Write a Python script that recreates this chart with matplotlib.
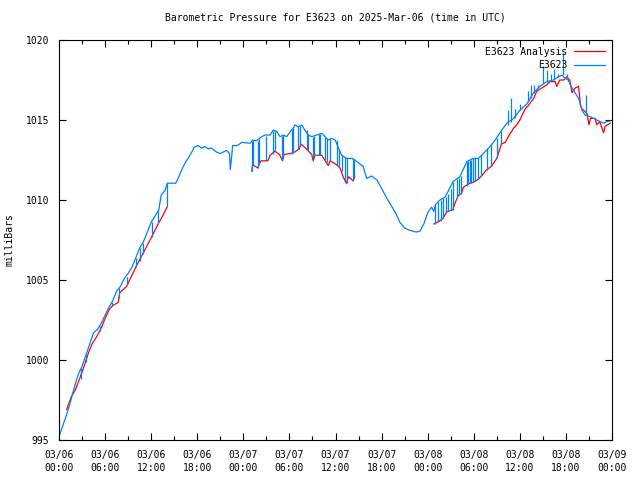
import numpy as np
from matplotlib import pyplot as plt
from matplotlib.ticker import MultipleLocator

# hours since 03/06 00:00 UTC
obs_t = [0.0, 0.5, 1.0, 1.5, 2.0, 2.5, 3.0, 3.5, 4.0, 4.5, 5.0, 5.5, 6.0, 6.5, 7.0, 7.5,
         8.0, 8.5, 9.0, 9.5, 10.0, 10.5, 11.0, 11.5, 12.0, 12.5, 13.0, 13.3, 13.8, 14.1,
         15.2, 15.5, 16.0, 16.4, 16.8, 17.3, 17.6, 18.1, 18.6, 19.0, 19.4, 19.8, 20.5,
         21.0, 21.8, 22.2, 22.3, 22.5, 22.6, 23.2, 23.8, 24.9, 25.2, 25.7, 26.4, 26.8,
         27.5, 27.9, 28.35, 28.8, 29.2, 29.65, 30.1, 30.5, 30.7, 31.15, 31.6, 32.0, 32.45,
         32.9, 33.55, 34.2, 34.65, 35.05, 35.5, 35.95, 36.4, 36.8, 37.45, 38.1, 38.5,
         39.6, 40.05, 40.7, 41.4, 42.7, 43.75, 44.4, 45.0, 45.7, 46.5, 47.0, 47.5, 48.0,
         48.5, 48.8, 49.0, 49.6, 50.3, 51.3, 52.2, 53.1, 53.9, 54.6, 55.25, 56.1, 56.8,
         57.4, 58.3, 59.2, 60.0, 60.9, 61.8, 62.6, 63.5, 64.4, 65.0, 65.5, 65.9, 66.3,
         66.8, 67.2, 67.65, 68.1, 68.5, 69.2, 70.0, 70.9, 71.3, 71.75]
obs_v = [995.2, 995.9, 996.6, 997.4, 998.3, 999.1, 999.6, 1000.3, 1001.0, 1001.7, 1001.9,
         1002.3, 1002.8, 1003.3, 1003.7, 1004.3, 1004.6, 1005.1, 1005.4, 1005.8, 1006.4,
         1007.0, 1007.4, 1008.0, 1008.6, 1009.0, 1009.4, 1010.3, 1010.6, 1011.05,
         1011.05, 1011.35, 1011.9, 1012.3, 1012.6, 1013.0, 1013.3, 1013.4, 1013.25,
         1013.35, 1013.2, 1013.25, 1013.0, 1012.9, 1013.1, 1012.9, 1011.9, 1012.8, 1013.4,
         1013.4, 1013.6, 1013.55, 1013.75, 1013.7, 1013.96, 1014.06, 1014.06, 1014.38,
         1014.27, 1013.96, 1014.06, 1013.96, 1014.27, 1014.48, 1014.69, 1014.58, 1014.69,
         1014.38, 1014.06, 1013.96, 1014.06, 1014.17, 1013.96, 1013.75, 1013.85, 1013.75,
         1013.23, 1012.8, 1012.6, 1012.6, 1012.5, 1012.1, 1011.35, 1011.5, 1011.25,
         1010.1, 1009.25, 1008.6, 1008.25, 1008.1, 1008.0, 1008.05, 1008.5, 1009.2,
         1009.55, 1009.3, 1009.7, 1010.0, 1010.2, 1011.15, 1011.46, 1012.4, 1012.6,
         1012.6, 1012.9, 1013.33, 1013.75, 1014.2, 1014.8, 1015.1, 1015.6, 1016.0,
         1016.7, 1017.1, 1017.4, 1017.5, 1017.7, 1017.8, 1017.6, 1017.5, 1017.0, 1016.7,
         1016.35, 1015.6, 1015.3, 1015.2, 1015.0, 1014.8, 1014.9, 1014.94]

# vertical jumps in the observed trace (time, low end, high end)
jump_t = [2.9, 3.5, 5.3, 6.9, 7.85, 8.9, 10.0, 10.5, 10.9, 12.07, 12.9, 14.05,
          25.1, 25.3, 25.95, 26.1, 27.0, 27.8, 28.1, 29.0, 29.2, 30.3, 30.5, 31.15, 31.4,
          32.25, 32.45, 33.05, 33.2, 33.8, 34.0, 34.65, 34.85, 35.3, 36.15, 36.4, 36.8,
          37.25, 37.45, 38.3, 38.45,
          48.95, 49.4, 49.7, 50.05, 50.4, 50.7, 51.0, 51.35, 51.8, 52.1, 52.4, 53.1, 53.3,
          53.5, 53.7, 53.95, 54.2, 54.6, 55.0, 55.7, 56.3, 57.0, 57.6,
          58.4, 58.9, 59.4, 60.0, 61.1, 61.5, 61.8, 62.4, 63.0, 63.5, 64.0, 64.45, 65.0,
          65.6, 66.1, 68.6]
jump_lo = [998.8, 999.9, 1001.8, 1003.35, 1003.9, 1004.7, 1005.8, 1006.2, 1006.6, 1007.7,
           1008.5, 1009.6,
           1011.8, 1012.2, 1012.0, 1012.2, 1012.45, 1012.9, 1013.05, 1012.5, 1012.6,
           1012.9, 1012.95, 1013.2, 1013.4, 1013.2, 1013.1, 1012.6, 1012.6, 1012.8,
           1012.8, 1012.5, 1012.35, 1012.45, 1012.2, 1012.1, 1011.8, 1011.2, 1011.05,
           1011.2, 1011.45,
           1008.5, 1008.65, 1008.7, 1008.85, 1009.2, 1009.3, 1009.35, 1009.4, 1010.1,
           1010.3, 1010.4, 1010.9, 1011.0, 1011.04, 1011.05, 1011.1, 1011.2, 1011.3,
           1011.5, 1011.9, 1012.1, 1012.6, 1013.5,
           1014.7, 1014.9, 1015.15, 1015.6, 1016.1, 1016.4, 1016.7, 1017.0, 1017.3,
           1017.4, 1017.45, 1017.5, 1017.7, 1017.8, 1017.6, 1015.4]
jump_hi = [999.5, 1000.3, 1002.1, 1003.6, 1004.5, 1005.2, 1006.4, 1007.0, 1007.3, 1008.6,
           1009.4, 1011.05,
           1013.7, 1013.75, 1013.7, 1013.8, 1014.0, 1014.3, 1014.35, 1014.0, 1014.05,
           1014.4, 1014.5, 1014.6, 1014.65, 1014.35, 1014.1, 1013.95, 1014.0, 1014.1,
           1014.15, 1013.95, 1013.9, 1013.8, 1013.75, 1013.2, 1012.8, 1012.7, 1012.6,
           1012.6, 1012.5,
           1009.7, 1009.9, 1010.0, 1010.1, 1010.2, 1010.4, 1010.7, 1011.15, 1011.3,
           1011.4, 1011.5, 1012.4, 1012.45, 1012.5, 1012.5, 1012.6, 1012.6, 1012.6,
           1012.8, 1013.2, 1013.5, 1013.9, 1014.3,
           1015.6, 1016.35, 1015.7, 1016.0, 1016.8, 1017.2, 1017.2, 1017.2, 1018.4,
           1018.1, 1017.9, 1018.2, 1017.9, 1019.2, 1017.9, 1016.55]

ana_t = [1.0, 1.6, 2.1, 2.7, 3.4, 3.8, 4.3, 4.9, 5.5, 6.0, 6.6, 7.0, 7.7, 7.9, 8.8, 9.2,
         10.1, 10.98, 12.07, 12.9, 13.6, 14.1, np.nan,
         25.1, 25.2, 25.9, 26.0, 26.3, 27.2, 27.5, 28.1, 28.7, 29.1, 29.3, 30.1, 30.7,
         31.3, 31.5, 32.2, 32.9, 33.1, 33.3, 34.2, 34.6, 35.05, 35.3, 36.15, 36.6, 37.0,
         37.4, 37.7, 38.3, 38.5, np.nan,
         48.8, 49.4, 50.0, 50.5, 51.3, 51.56, 52.0, 52.4, 52.65, 53.5, 53.9, 54.6, 55.0,
         55.7, 56.3, 57.0, 57.6, 58.1, 58.5, 59.2, 59.6, 60.0, 60.7, 61.1, 61.8, 62.2,
         62.85, 63.5, 63.9, 64.6, 64.8, 65.2, 65.7, 66.1, 66.5, 66.8, 67.2, 67.65, 67.9,
         68.1, 68.75, 69.0, 69.2, 69.8, 70.0, 70.4, 70.9, 71.1, 71.75]
ana_v = [996.9, 997.7, 998.1, 998.85, 999.8, 1000.4, 1001.0, 1001.45, 1002.0, 1002.6,
         1003.2, 1003.4, 1003.6, 1004.2, 1004.6, 1005.0, 1005.9, 1006.7, 1007.7, 1008.5,
         1009.1, 1009.6, np.nan,
         1011.8, 1012.2, 1012.0, 1012.2, 1012.45, 1012.45, 1012.8, 1013.05, 1012.85,
         1012.45, 1012.85, 1012.9, 1013.0, 1013.2, 1013.5, 1013.2, 1012.85, 1012.45,
         1012.8, 1012.8, 1012.5, 1012.15, 1012.45, 1012.2, 1012.0, 1011.45, 1011.05,
         1011.45, 1011.2, 1011.45, np.nan,
         1008.5, 1008.65, 1008.85, 1009.27, 1009.4, 1009.8, 1010.3, 1010.4, 1010.8,
         1011.04, 1011.1, 1011.3, 1011.5, 1011.9, 1012.1, 1012.6, 1013.5, 1013.6,
         1013.96, 1014.5, 1014.7, 1015.0, 1015.7, 1015.9, 1016.35, 1016.8, 1017.0,
         1017.2, 1017.4, 1017.4, 1017.1, 1017.5, 1017.5, 1017.7, 1017.5, 1016.7, 1017.0,
         1017.1, 1015.9, 1015.7, 1015.4, 1014.7, 1015.1, 1015.1, 1014.7, 1014.9, 1014.2,
         1014.6, 1014.8]

tick_hours = [0, 6, 12, 18, 24, 30, 36, 42, 48, 54, 60, 66, 72]
tick_labels = ['03/06\n00:00', '03/06\n06:00', '03/06\n12:00', '03/06\n18:00',
               '03/07\n00:00', '03/07\n06:00', '03/07\n12:00', '03/07\n18:00',
               '03/08\n00:00', '03/08\n06:00', '03/08\n12:00', '03/08\n18:00',
               '03/09\n00:00']

plt.rcParams['font.family'] = 'DejaVu Sans Mono'
plt.rcParams['font.size'] = 7

fig = plt.figure(figsize=(6.4, 4.8), dpi=100)
ax = fig.add_axes([59/640, 40/480, (612-59)/640, 400/480])

red = '#ff0000'
blue = '#0080ff'
ax.plot(ana_t, ana_v, color=red, lw=0.9, label='E3623 Analysis')
ax.plot(obs_t, obs_v, color=blue, lw=0.9, label='E3623')
ax.vlines(jump_t, jump_lo, jump_hi, color=blue, lw=0.9)

ax.set_xlim(0, 72)
ax.set_ylim(995, 1020)
ax.set_xticks(tick_hours)
ax.set_xticklabels(tick_labels, linespacing=1.35)
ax.xaxis.set_minor_locator(MultipleLocator(3))
ax.set_yticks([995, 1000, 1005, 1010, 1015, 1020])
ax.tick_params(which='both', direction='in', top=True, right=True, width=0.8)
ax.tick_params(which='major', length=5, pad=7)
ax.tick_params(which='minor', length=3)
for s in ax.spines.values():
    s.set_linewidth(0.8)

ax.set_ylabel('milliBars', labelpad=8)
ax.set_title('Barometric Pressure for E3623 on 2025-Mar-06 (time in UTC)',
             fontsize=7, pad=14)
ax.legend(loc='upper right', frameon=False, markerfirst=False, handlelength=3.2,
          handletextpad=0.7, borderaxespad=0.3, labelspacing=0.35, fontsize=7)

plt.savefig('out.png', dpi=100)
